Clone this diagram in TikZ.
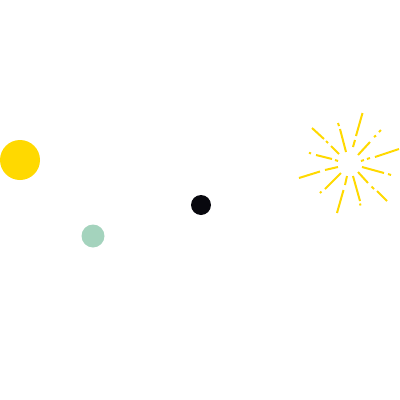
\documentclass[tikz,border=0pt]{standalone}
\usepackage{tikz}
\usetikzlibrary{positioning}

\definecolor{sunyellow}{RGB}{255,217,0}
\definecolor{mintgreen}{RGB}{164,211,189}
\definecolor{inkblack}{RGB}{8,8,14}

\begin{document}
\begin{tikzpicture}[
        x = 1pt, y = -1pt,
        dot/.style = {
            circle,
            fill = #1,
            inner sep = 0pt,
            outer sep = 0pt
        },
        dot/.default = inkblack,
        ray/.style = {
            draw = sunyellow,
            line width = 2pt,
            line cap = butt
        }
    ]
    \useasboundingbox (0,0) rectangle (400,400);

    \node[dot=sunyellow, minimum size = 40pt] (sun) at (20,160) {};
    \node[dot=mintgreen, minimum size = 23pt] (green) at (93,236) {};
    \node[dot, minimum size = 20pt] (black) at (201,205) {};

    % starburst, broken rays
    \foreach \xa/\ya/\xb/\yb in {
            312/128/324/139, 326/141/328/143, 331/146/339/154,
            338/123/339/126, 340/129/346/152,
            362.5/113/356/136, 355/140/353/147,
            379/132/381/130, 374/137/376/135.5, 358/155/370/142,
            375/157/399/149, 367/159/370/158, 361/161/364/160,
            309/152.7/311/153.5, 316/155/332/159, 335/160/338/161,
            299/178/320/171.5, 325/170/338/167,
            320/193/321.5/191.5, 325/189/341/173,
            337/213/343.5/190, 345/185/347/176,
            353/176/360/201, 360/203.5/360.5/205.5,
            358/172/368/183, 371.5/186.5/374/189, 377/191/387/201,
            362/167/384/173, 388/174/391/175}
        \draw[ray] (\xa,\ya) -- (\xb,\yb);

\end{tikzpicture}
\end{document}
